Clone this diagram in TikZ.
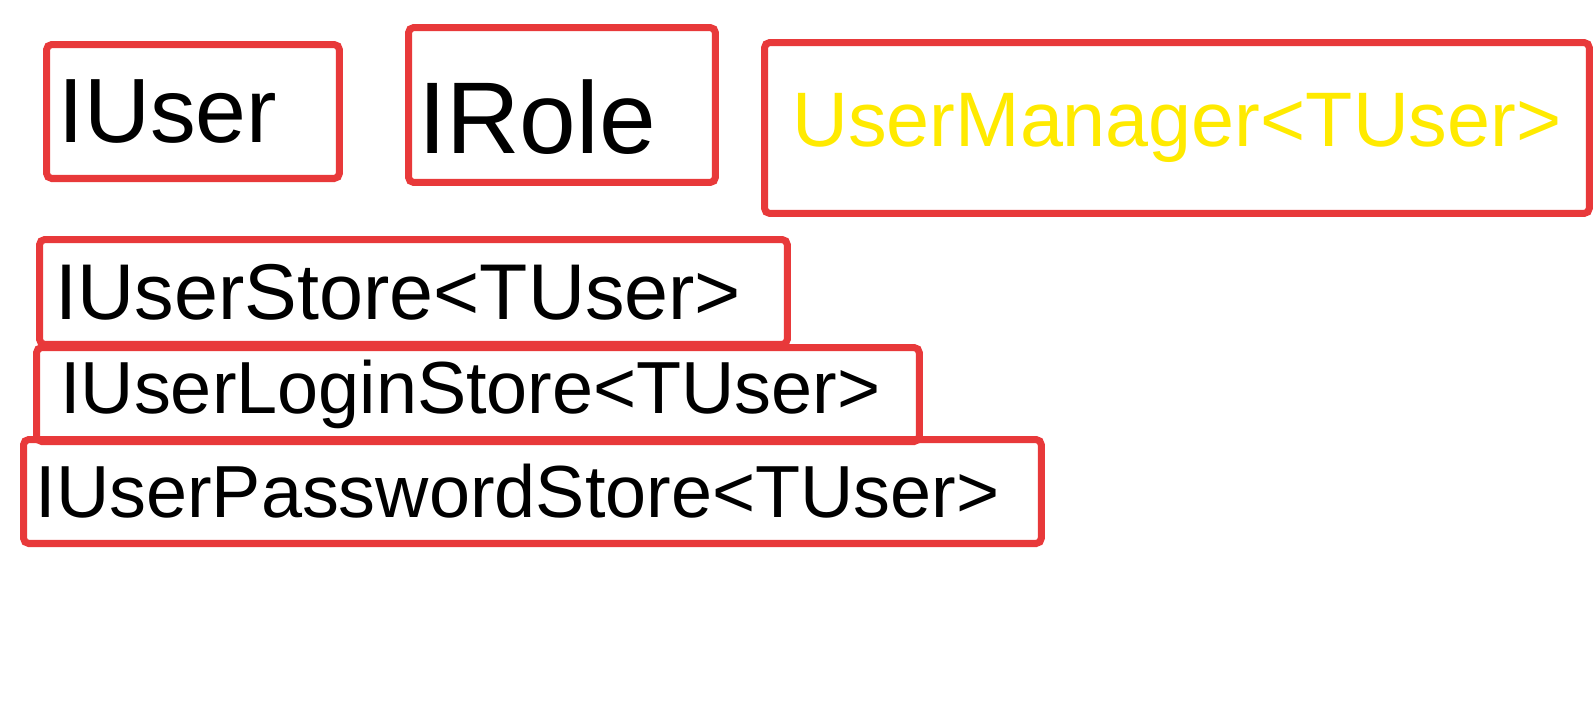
\documentclass[tikz,border=0pt]{standalone}
\usepackage{fontspec}
\setmainfont{Liberation Sans}
\usetikzlibrary{positioning}
\definecolor{penred}{HTML}{E8393A}
\definecolor{penyellow}{HTML}{FFEA00}

\begin{document}
\begin{tikzpicture}[x=0.02cm,y=-0.02cm,
  box/.style={draw=penred,line width=4pt,rounded corners=3pt,anchor=north west,inner sep=0pt}]
  \useasboundingbox (0,0) rectangle (1596,720);
  % top row
  \node[box,minimum width=5.86cm,minimum height=2.68cm,font=\fontsize{52}{52}\selectfont] (iuser) at (43,41) {IUser\hspace*{1cm}};
  \node[box,minimum width=6.14cm,minimum height=3.1cm,font=\fontsize{58}{58}\selectfont] (irole) at (405,24) {\raisebox{-0.25cm}[\height][\depth]{IRole}\hspace*{1cm}};
  \node[box,minimum width=16.5cm,minimum height=3.42cm,text=penyellow,font=\fontsize{44}{44}\selectfont] (manager) at (761,39) {UserManager<TUser>};
  % stores
  \node[box,minimum width=14.96cm,minimum height=2.1cm,font=\fontsize{45}{45}\selectfont] (userstore) at (36,236) {IUserStore<TUser>\hspace*{0.6cm}};
  \node[box,minimum width=17.66cm,minimum height=1.88cm,font=\fontsize{42}{42}\selectfont] (loginstore) at (33,344) {IUserLoginStore<TUser>\hspace*{0.3cm}};
  \node[box,minimum width=20.36cm,minimum height=2.08cm,font=\fontsize{42}{42}\selectfont] (passwordstore) at (20,436) {IUserPasswordStore<TUser>\hspace*{0.6cm}};
\end{tikzpicture}
\end{document}
